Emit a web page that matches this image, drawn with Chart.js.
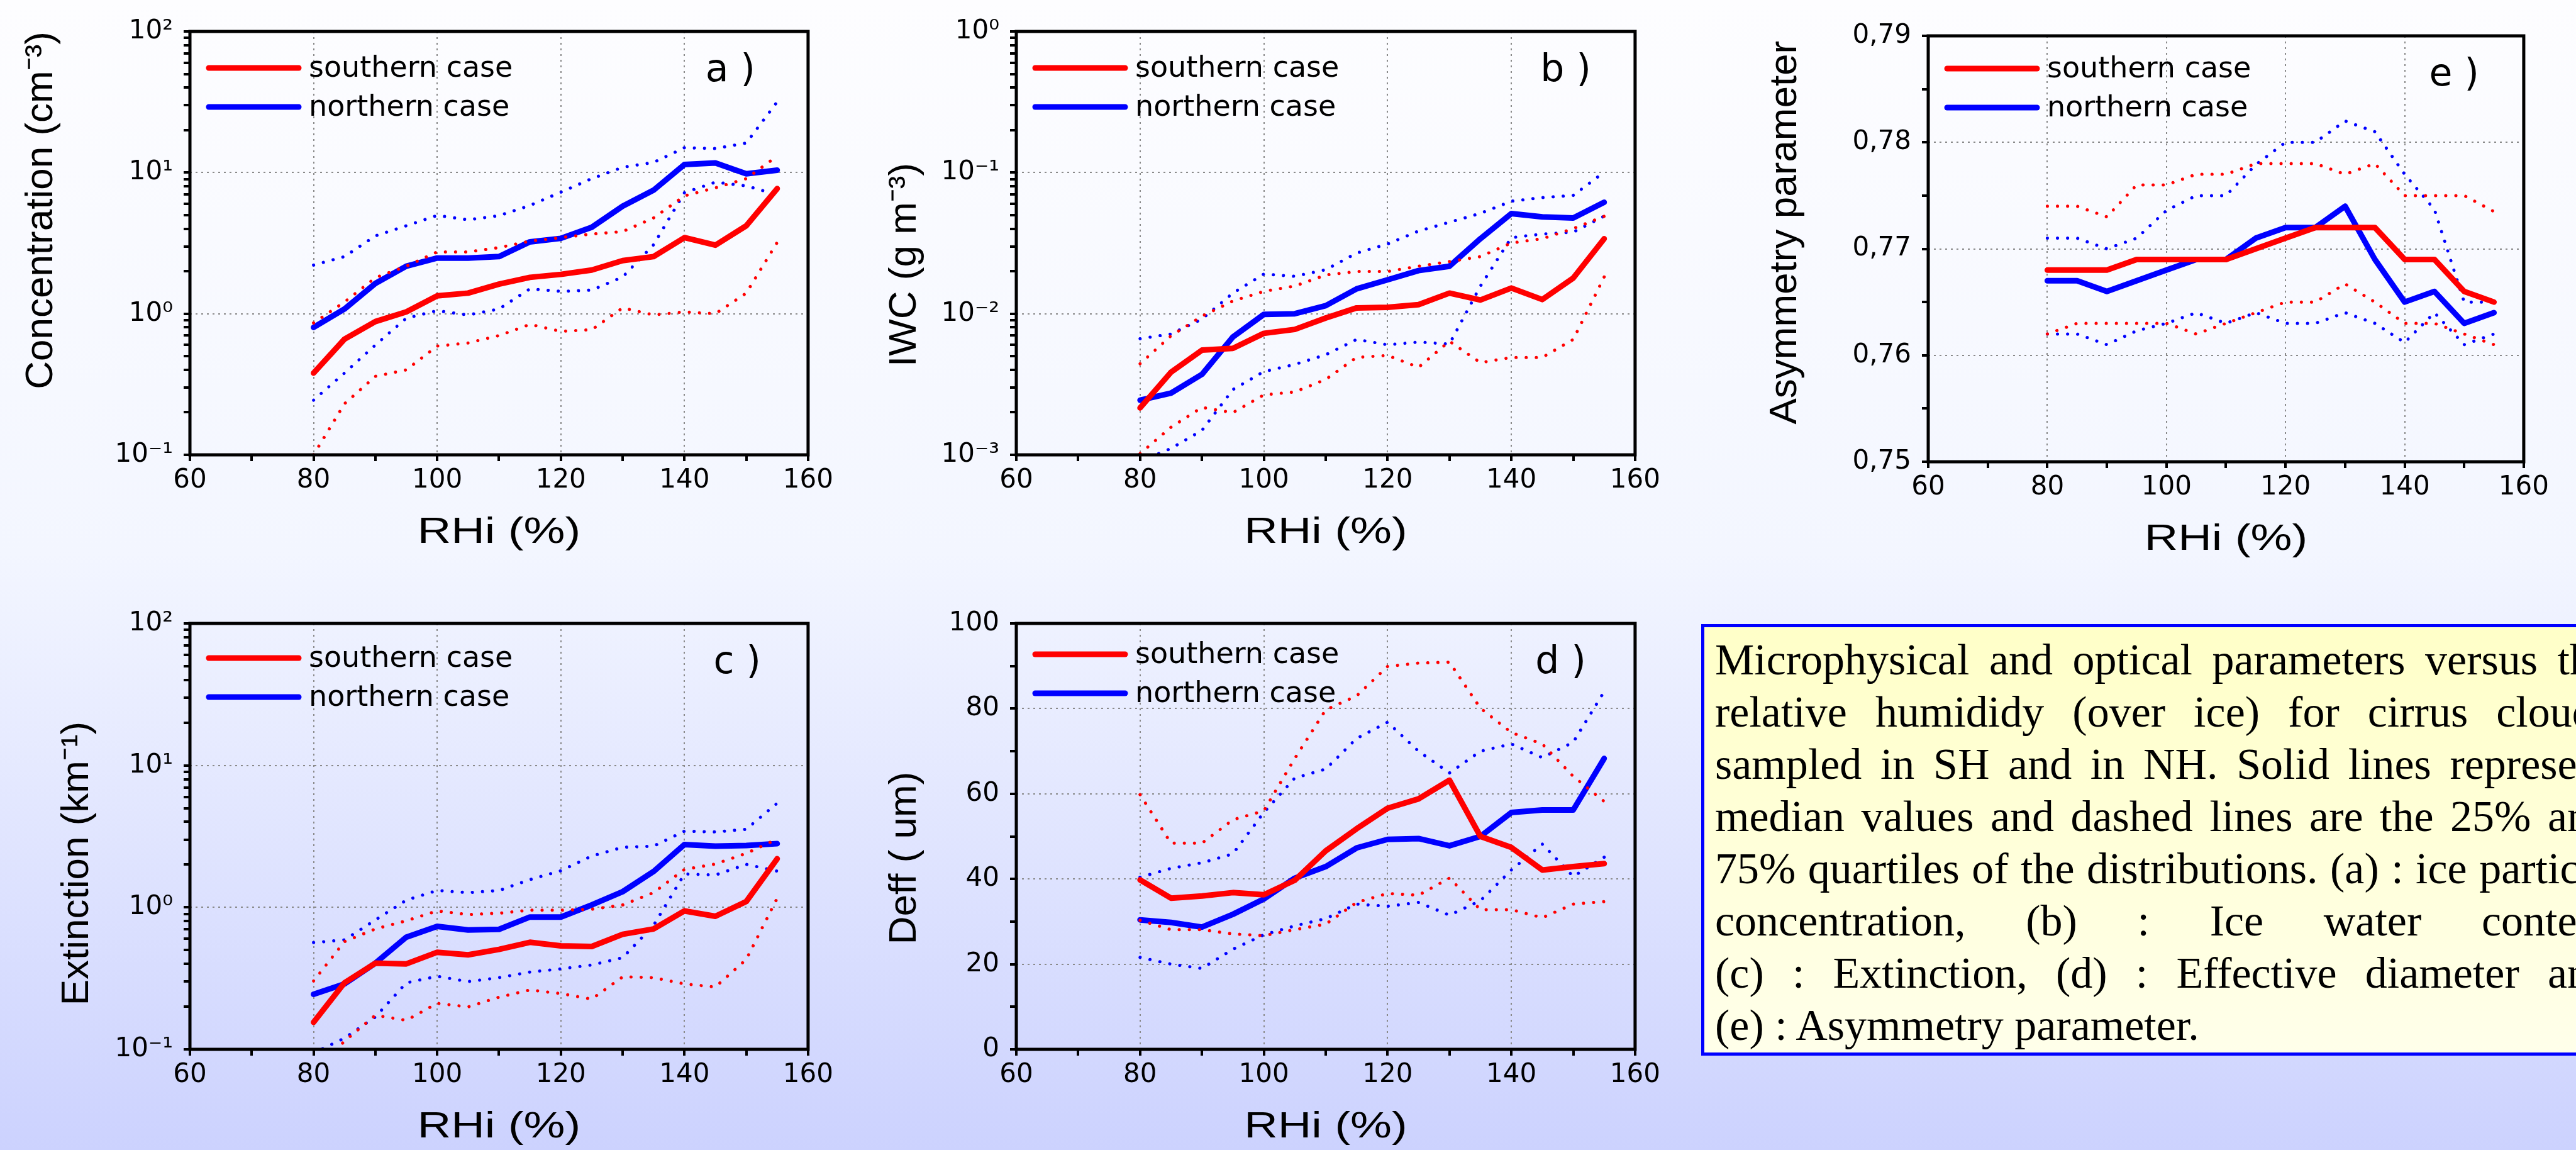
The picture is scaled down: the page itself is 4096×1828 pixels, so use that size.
<!DOCTYPE html>
<html>
<head>
<meta charset="utf-8">
<script src="https://cdn.jsdelivr.net/npm/chart.js@4.4.1/dist/chart.umd.min.js"></script>
<style>
  html, body {
    margin: 0;
    width: 4096px;
    height: 1828px;
    overflow: hidden;
    background: linear-gradient(to bottom, #fdfdff 0%, #f3f6ff 48%, #ccd2fe 100%);
  }
  .panel { position: absolute; }
  #note {
    position: absolute;
    left: 2705px;
    top: 992px;
    width: 1480px;
    height: 686px;
    box-sizing: border-box;
    border: 5px solid #0000ff;
    padding: 10px 0 0 17px;
    background: linear-gradient(to bottom, #ffffc8, #ffffea);
    font-family: "Liberation Serif", "Times New Roman", serif;
    font-size: 70px;
    line-height: 83px;
    color: #000;
  }
  #note .ln { width: 1425px; text-align: justify; text-align-last: justify; }
  #note .ln.last { text-align-last: left; }
</style>
</head>
<body>
<div class="panel" id="pa" style="left:0px;top:0px;width:1335px;height:882px"><canvas id="ca"></canvas></div>
<div class="panel" id="pb" style="left:1373px;top:0px;width:1277px;height:882px"><canvas id="cb"></canvas></div>
<div class="panel" id="pe" style="left:2773px;top:0px;width:1290px;height:893px"><canvas id="ce"></canvas></div>
<div class="panel" id="pc" style="left:57px;top:941px;width:1278px;height:886px"><canvas id="cc"></canvas></div>
<div class="panel" id="pd" style="left:1373px;top:941px;width:1277px;height:886px"><canvas id="cd"></canvas></div>

<div id="note">
  <div class="ln">Microphysical and optical parameters versus the</div>
  <div class="ln">relative humididy (over ice) for cirrus clouds</div>
  <div class="ln">sampled in SH and in NH. Solid lines represent</div>
  <div class="ln">median values and dashed lines are the 25% and</div>
  <div class="ln">75% quartiles of the distributions. (a) : ice particle</div>
  <div class="ln">concentration, (b) : Ice water content</div>
  <div class="ln">(c) : Extinction, (d) : Effective diameter and</div>
  <div class="ln last">(e) : Asymmetry parameter.</div>
</div>

<script>
const rhi = [80, 85, 90, 95, 100, 105, 110, 115, 120, 125, 130, 135, 140, 145, 150, 155];

// (a) ice particle concentration, cm-3
const concSouthMed = [0.38, 0.66, 0.88, 1.03, 1.34, 1.40, 1.62, 1.81, 1.90, 2.04, 2.38, 2.54, 3.46, 3.06, 4.2, 7.7];
const concSouthQ25 = [0.10, 0.23, 0.36, 0.40, 0.59, 0.62, 0.70, 0.84, 0.75, 0.77, 1.10, 0.98, 1.03, 1.0, 1.40, 3.2];
const concSouthQ75 = [0.86, 1.21, 1.80, 2.17, 2.74, 2.74, 2.94, 3.27, 3.46, 3.67, 3.82, 4.77, 6.84, 7.8, 9.06, 13.1];
const concNorthMed = [0.80, 1.08, 1.64, 2.17, 2.48, 2.48, 2.54, 3.23, 3.42, 4.1, 5.78, 7.5, 11.4, 11.7, 9.8, 10.4];
const concNorthQ25 = [0.244, 0.38, 0.60, 0.93, 1.05, 0.98, 1.08, 1.50, 1.44, 1.47, 1.82, 3.08, 7.2, 8.55, 8.05, 6.97];
const concNorthQ75 = [2.21, 2.54, 3.56, 4.2, 4.97, 4.63, 4.95, 5.85, 7.26, 9.06, 10.9, 11.8, 15.0, 14.8, 16.2, 31.7];

// (b) ice water content, g m-3
const iwcSouthMed = [0.00215, 0.00385, 0.00552, 0.00568, 0.00726, 0.00774, 0.00933, 0.0110, 0.0111, 0.0116, 0.0140, 0.0125, 0.0152, 0.0126, 0.0179, 0.034];
const iwcSouthQ25 = [0.00102, 0.00157, 0.00217, 0.00199, 0.00266, 0.00279, 0.00342, 0.00491, 0.00506, 0.00417, 0.00638, 0.0045, 0.0049, 0.0049, 0.00657, 0.0182];
const iwcSouthQ75 = [0.00442, 0.00697, 0.0096, 0.0123, 0.0144, 0.0157, 0.0188, 0.0199, 0.0199, 0.0217, 0.0234, 0.0254, 0.0317, 0.034, 0.0401, 0.049];
const iwcNorthMed = [0.00244, 0.00274, 0.00372, 0.00684, 0.00989, 0.0100, 0.0114, 0.0150, 0.0174, 0.0202, 0.0217, 0.034, 0.0512, 0.0485, 0.0477, 0.0616];
const iwcNorthQ25 = [0.0009, 0.00111, 0.00149, 0.0029, 0.00389, 0.00437, 0.00512, 0.00657, 0.00602, 0.0063, 0.0061, 0.0157, 0.0346, 0.0367, 0.0378, 0.0491];
const iwcNorthQ75 = [0.00665, 0.00718, 0.00916, 0.014, 0.0191, 0.0184, 0.0205, 0.0269, 0.0312, 0.0385, 0.0445, 0.0514, 0.0627, 0.0665, 0.0689, 0.1007];

// (c) extinction, km-1
const extSouthMed = [0.155, 0.294, 0.405, 0.40, 0.483, 0.463, 0.506, 0.568, 0.536, 0.53, 0.646, 0.705, 0.944, 0.865, 1.10, 2.2];
const extSouthQ25 = [0.07, 0.114, 0.174, 0.16, 0.211, 0.199, 0.233, 0.262, 0.247, 0.226, 0.324, 0.32, 0.289, 0.275, 0.43, 1.16];
const extSouthQ75 = [0.303, 0.574, 0.705, 0.805, 0.944, 0.89, 0.91, 0.955, 0.955, 0.97, 1.04, 1.27, 1.85, 2.02, 2.4, 3.03];
const extNorthMed = [0.244, 0.289, 0.405, 0.617, 0.735, 0.693, 0.70, 0.855, 0.855, 1.04, 1.29, 1.79, 2.77, 2.7, 2.73, 2.81];
const extNorthQ25 = [0.094, 0.12, 0.169, 0.294, 0.327, 0.30, 0.32, 0.35, 0.369, 0.393, 0.442, 0.746, 1.72, 1.69, 2.01, 1.8];
const extNorthQ75 = [0.565, 0.59, 0.815, 1.125, 1.315, 1.27, 1.315, 1.57, 1.81, 2.30, 2.65, 2.7, 3.44, 3.4, 3.55, 5.42];

// (d) effective diameter, um
const deffSouthMed = [39.8, 35.5, 36, 36.8, 36.3, 39.7, 46.6, 51.8, 56.6, 58.8, 63.2, 50, 47.4, 42.1, 42.9, 43.6];
const deffSouthQ25 = [30.3, 28.1, 28.1, 27.1, 26.7, 28.1, 29.4, 34.5, 36.6, 36.2, 40.2, 32.8, 32.8, 30.9, 34.1, 34.7];
const deffSouthQ75 = [59.8, 48.4, 48.4, 53.9, 56, 68.3, 79.7, 83, 89.9, 90.7, 90.9, 80.1, 74.4, 71.7, 64.1, 58.2];
const deffNorthMed = [30.4, 29.8, 28.7, 31.7, 35.3, 40.2, 42.9, 47.3, 49.3, 49.5, 47.8, 50, 55.6, 56.2, 56.2, 68.3];
const deffNorthQ25 = [21.6, 20, 19, 23.5, 26.9, 29, 30.7, 34.1, 33.6, 34.5, 31.5, 34.9, 42.1, 48.2, 40.6, 45.1];
const deffNorthQ75 = [40.4, 42.5, 43.8, 45.9, 55.6, 63.7, 65.8, 73, 76.8, 70, 64.9, 70, 71.7, 68.5, 72.1, 84];

// (e) asymmetry parameter
const asymSouthMed = [0.768, 0.768, 0.768, 0.769, 0.769, 0.769, 0.769, 0.770, 0.771, 0.772, 0.772, 0.772, 0.769, 0.769, 0.766, 0.765];
const asymSouthQ25 = [0.762, 0.763, 0.763, 0.763, 0.763, 0.762, 0.763, 0.764, 0.765, 0.765, 0.7667, 0.765, 0.763, 0.763, 0.762, 0.761];
const asymSouthQ75 = [0.774, 0.774, 0.773, 0.776, 0.776, 0.777, 0.777, 0.778, 0.778, 0.778, 0.777, 0.778, 0.775, 0.775, 0.775, 0.7735];
const asymNorthMed = [0.767, 0.767, 0.766, 0.767, 0.768, 0.769, 0.769, 0.771, 0.772, 0.772, 0.774, 0.769, 0.765, 0.766, 0.763, 0.764];
const asymNorthQ25 = [0.762, 0.762, 0.761, 0.7623, 0.763, 0.764, 0.763, 0.764, 0.763, 0.763, 0.764, 0.763, 0.7612, 0.764, 0.761, 0.762];
const asymNorthQ75 = [0.771, 0.771, 0.770, 0.771, 0.7736, 0.775, 0.775, 0.7779, 0.780, 0.780, 0.782, 0.781, 0.777, 0.7737, 0.765, 0.765];

const rhiGridValues = [80, 100, 120, 140];
const legendLabels = ['southern case', 'northern case'];
const xTitle = 'RHi (%)';

const SOUTH = '#ff0000';
const NORTH = '#0000ff';
const GRID = '#8a8a8a';
const NONE = 'rgba(0,0,0,0)';
const tickFont = { family: '"DejaVu Sans"', size: 42, lineHeight: 1 };
const yTitleFont = { family: '"Liberation Sans", Arial', size: 62 };

const SUP = { '-': '\u207B', '0': '\u2070', '1': '\u00B9', '2': '\u00B2', '3': '\u00B3' };
const isDecade = v => Math.abs(Math.log10(v) - Math.round(Math.log10(v))) < 1e-6;
const decadeLabel = v => '10' + String(Math.round(Math.log10(v))).split('').map(c => SUP[c]).join('');

// minor ticks 1..9 x 10^k on the log axes
function logTicks(min, max) {
  const out = [];
  for (let e = Math.round(Math.log10(min)); e < Math.round(Math.log10(max)); e++) {
    for (let m = 1; m < 10; m++) out.push({ value: m * Math.pow(10, e) });
  }
  out.push({ value: max });
  return out;
}

function series(values) {
  return rhi.map((x, i) => ({ x, y: values[i] }));
}

function lineSets(sMed, sQ25, sQ75, nMed, nQ25, nQ75) {
  const solid = (label, color, v) => ({
    label, data: series(v), borderColor: color, borderWidth: 9,
    pointRadius: 0, borderJoinStyle: 'round', borderCapStyle: 'round'
  });
  const dotted = (color, v) => ({
    label: '', data: series(v), borderColor: color, borderWidth: 5,
    pointRadius: 0, borderDash: [0.1, 16], borderCapStyle: 'round'
  });
  // first dataset is drawn last (on top)
  return [
    solid(legendLabels[0], SOUTH, sMed), dotted(SOUTH, sQ25), dotted(SOUTH, sQ75),
    solid(legendLabels[1], NORTH, nMed), dotted(NORTH, nQ25), dotted(NORTH, nQ75)
  ];
}

// frame, in-plot legend, panel letter and the (wide) x title
const panelDecor = {
  id: 'panelDecor',
  afterDatasetsDraw(chart, args, opts) {
    const { ctx, chartArea: a } = chart;
    ctx.save();
    ctx.strokeStyle = '#000';
    ctx.lineWidth = 5;
    ctx.strokeRect(a.left, a.top, a.right - a.left, a.bottom - a.top);

    ctx.font = '46px "DejaVu Sans"';
    ctx.textBaseline = 'middle';
    ctx.fillStyle = '#000';
    chart.data.datasets.filter(d => d.label).forEach((d, i) => {
      const y = a.top + opts.legendTop + i * 62;
      ctx.strokeStyle = d.borderColor;
      ctx.lineWidth = 9;
      ctx.lineCap = 'round';
      ctx.beginPath();
      ctx.moveTo(a.left + 30, y);
      ctx.lineTo(a.left + 173, y);
      ctx.stroke();
      ctx.fillText(d.label, a.left + 189, y + 2);
    });

    ctx.font = '60px "DejaVu Sans"';
    ctx.textAlign = 'right';
    ctx.fillText(opts.tag, a.right - opts.tagRight, a.top + 63);

    // x title is drawn stretched horizontally like the original export
    ctx.font = '57px "Liberation Sans", Arial';
    ctx.textAlign = 'center';
    ctx.translate((a.left + a.right) / 2, a.bottom + 124);
    ctx.scale(1.3, 1);
    ctx.fillText(xTitle, 0, 0);
    ctx.restore();
  }
};

function makePanel(canvasId, p) {
  const yScale = {
    type: p.log ? 'logarithmic' : 'linear',
    min: p.min,
    max: p.max,
    afterFit: s => { s.width = p.axisW; },
    ticks: {
      stepSize: p.step,
      autoSkip: false,
      padding: 17,
      color: '#000',
      font: tickFont,
      callback: p.label
    },
    grid: {
      color: c => (c.tick && p.isGrid(c.tick.value)) ? GRID : NONE,
      lineWidth: 2,
      tickColor: '#000',
      tickLength: 10,
      tickWidth: 4
    },
    border: { display: false, dash: [3, 6] },
    title: {
      display: true,
      text: p.title,
      align: p.titleAlign || 'center',
      color: '#000',
      font: yTitleFont,
      padding: { top: 29, bottom: 0 }
    }
  };
  if (p.log) {
    yScale.afterBuildTicks = s => { s.ticks = logTicks(p.min, p.max); };
  }

  return new Chart(document.getElementById(canvasId), {
    type: 'line',
    data: { datasets: p.datasets },
    options: {
      responsive: true,
      maintainAspectRatio: false,
      animation: false,
      layout: { padding: { top: p.padTop, right: 50, left: 0, bottom: 0 } },
      plugins: {
        legend: { display: false },
        tooltip: { enabled: false },
        panelDecor: { tag: p.tag, tagRight: p.tagRight, legendTop: p.legendTop }
      },
      scales: {
        x: {
          type: 'linear',
          min: 60,
          max: 160,
          afterFit: s => { s.height = 159; },
          ticks: {
            stepSize: 10,
            autoSkip: false,
            maxRotation: 0,
            padding: 10,
            color: '#000',
            font: tickFont,
            callback: v => (v % 20 === 0 ? String(v) : '')
          },
          grid: {
            color: c => (c.tick && rhiGridValues.includes(c.tick.value)) ? GRID : NONE,
            lineWidth: 2,
            tickColor: '#000',
            tickLength: 10,
            tickWidth: 4
          },
          border: { display: false, dash: [3, 6] },
          title: { display: false }
        },
        y: yScale
      }
    },
    plugins: [panelDecor]
  });
}

const logLabel = v => (isDecade(v) ? decadeLabel(v) : '');
const logGrid = (lo, hi) => v => isDecade(v) && v > lo * 1.01 && v < hi * 0.99;

makePanel('ca', {
  log: true, min: 0.1, max: 100, axisW: 302, padTop: 50,
  title: 'Concentration (cm\u207B\u00B3)', titleAlign: 'end',
  label: logLabel, isGrid: logGrid(0.1, 100),
  tag: 'a )', tagRight: 84, legendTop: 58,
  datasets: lineSets(concSouthMed, concSouthQ25, concSouthQ75, concNorthMed, concNorthQ25, concNorthQ75)
});

makePanel('cb', {
  log: true, min: 0.001, max: 1, axisW: 243, padTop: 50,
  title: 'IWC (g m\u207B\u00B3)    ',
  label: logLabel, isGrid: logGrid(0.001, 1),
  tag: 'b )', tagRight: 70, legendTop: 58,
  datasets: lineSets(iwcSouthMed, iwcSouthQ25, iwcSouthQ75, iwcNorthMed, iwcNorthQ25, iwcNorthQ75)
});

makePanel('ce', {
  log: false, min: 0.75, max: 0.79, step: 0.005, axisW: 293, padTop: 57,
  title: '   Asymmetry parameter',
  label: v => (Math.round(v * 1000) % 10 === 0 ? v.toFixed(2).replace('.', ',') : ''),
  isGrid: v => [760, 770, 780].includes(Math.round(v * 1000)),
  tag: 'e )', tagRight: 71, legendTop: 52,
  datasets: lineSets(asymSouthMed, asymSouthQ25, asymSouthQ75, asymNorthMed, asymNorthQ25, asymNorthQ75)
});

makePanel('cc', {
  log: true, min: 0.1, max: 100, axisW: 245, padTop: 50,
  title: 'Extinction (km\u207B\u00B9)     ',
  label: logLabel, isGrid: logGrid(0.1, 100),
  tag: 'c )', tagRight: 75, legendTop: 55,
  datasets: lineSets(extSouthMed, extSouthQ25, extSouthQ75, extNorthMed, extNorthQ25, extNorthQ75)
});

makePanel('cd', {
  log: false, min: 0, max: 100, step: 10, axisW: 243, padTop: 50,
  title: 'Deff ( um)    ',
  label: v => (v % 20 === 0 ? String(v) : ''),
  isGrid: v => [20, 40, 60, 80].includes(v),
  tag: 'd )', tagRight: 78, legendTop: 49,
  datasets: lineSets(deffSouthMed, deffSouthQ25, deffSouthQ75, deffNorthMed, deffNorthQ25, deffNorthQ75)
});
</script>
</body>
</html>
